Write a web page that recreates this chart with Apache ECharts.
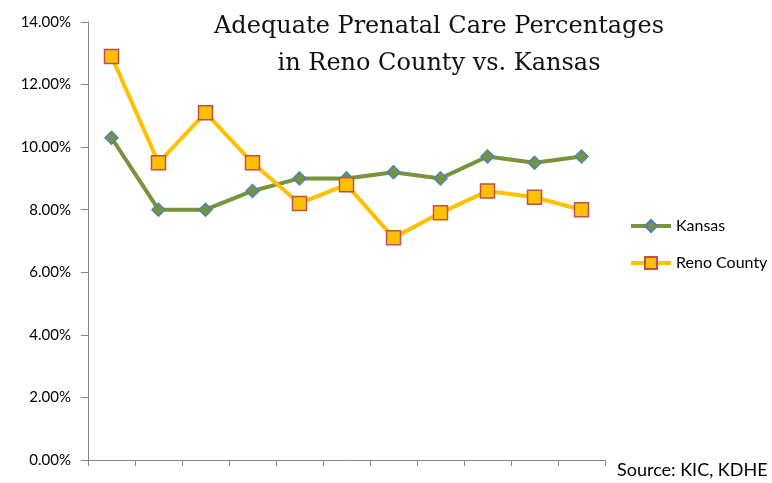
<!DOCTYPE html>
<html>
<head>
<meta charset="utf-8">
<script src="https://cdn.jsdelivr.net/npm/echarts@6/dist/echarts.min.js"></script>
<style>html,body{margin:0;padding:0;background:#fff;}#c{width:772px;height:483px;}</style>
</head>
<body>
<div id="c"></div>
<script>
var categories = ['1','2','3','4','5','6','7','8','9','10','11'];
var kansas = [10.3, 8.0, 8.0, 8.6, 9.0, 9.0, 9.2, 9.0, 9.7, 9.5, 9.7];
var reno = [12.9, 9.5, 11.1, 9.5, 8.2, 8.8, 7.1, 7.9, 8.6, 8.4, 8.0];
var titleText = 'Adequate Prenatal Care Percentages\nin Reno County vs. Kansas';
var sourceText = 'Source: KIC, KDHE';

var chart = echarts.init(document.getElementById('c'));
chart.setOption({
  animation: false,
  backgroundColor: '#fff',
  title: {
    text: titleText,
    left: 434, top: 3, textAlign: 'center',
    textStyle: { fontFamily: 'DejaVu Serif', fontSize: 24, fontWeight: 'normal', color: '#111', lineHeight: 37, align: 'center' }
  },
  grid: { left: 88, right: 167, top: 22, bottom: 23, containLabel: false },
  legend: {
    orient: 'vertical', left: 624, top: 213, itemWidth: 40, itemHeight: 15, itemGap: 21,
    textStyle: { fontFamily: 'Lato', fontSize: 16, color: '#000' },
    lineStyle: { width: 4 },
    data: [
      { name: 'Kansas' },
      { name: 'Reno County' }
    ]
  },
  xAxis: {
    type: 'category', data: categories, boundaryGap: true,
    axisLine: { lineStyle: { color: '#868686', width: 1 } },
    axisTick: { show: true, length: 6, lineStyle: { color: '#868686' } },
    axisLabel: { show: false },
    splitLine: { show: false }
  },
  yAxis: {
    type: 'value', min: 0, max: 14, interval: 2,
    axisLine: { show: true, lineStyle: { color: '#868686', width: 1 } },
    axisTick: { show: true, length: 7, inside: false, lineStyle: { color: '#868686' } },
    axisLabel: { margin: 17, fontFamily: 'Lato', fontSize: 15, color: '#000', formatter: function (v) { return v.toFixed(2) + '%'; } },
    splitLine: { show: false }
  },
  graphic: [{
    type: 'text', left: 617, top: 461,
    style: { text: sourceText, fontFamily: 'Lato', fontSize: 18, fill: '#000' }
  }],
  series: [
    {
      name: 'Kansas', type: 'line', data: kansas,
      symbol: 'diamond', symbolSize: 13,
      lineStyle: { color: '#77933C', width: 4 },
      itemStyle: { color: '#77933C', borderColor: '#4F81BD', borderWidth: 1.5 }
    },
    {
      name: 'Reno County', type: 'line', data: reno,
      symbol: 'rect', symbolSize: 14,
      lineStyle: { color: '#FFC000', width: 4 },
      itemStyle: { color: '#FFC000', borderColor: '#C0504D', borderWidth: 1.5 }
    }
  ]
});
</script>
</body>
</html>
